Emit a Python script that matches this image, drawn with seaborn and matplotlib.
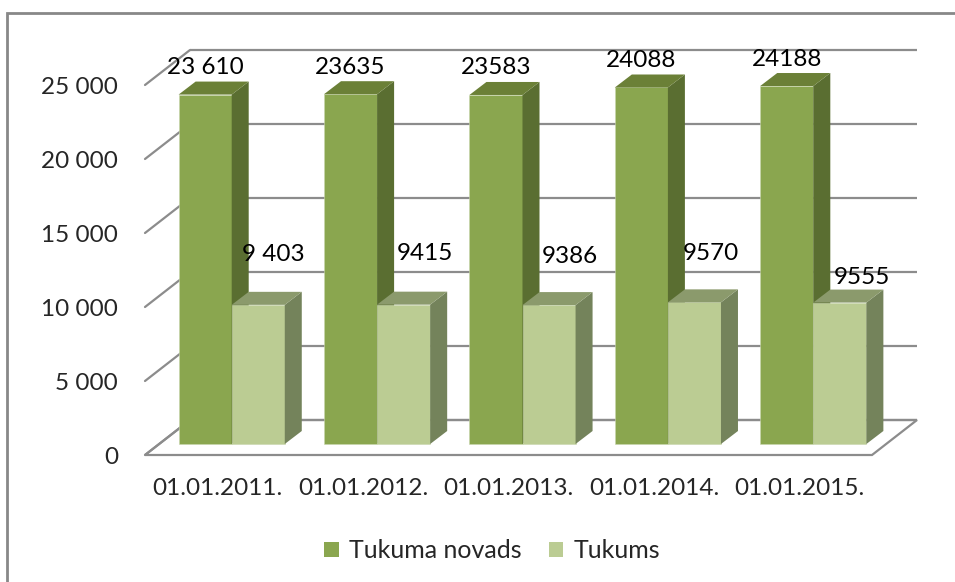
import matplotlib
matplotlib.use("Agg")
import matplotlib.pyplot as plt
from matplotlib.patches import Polygon, Rectangle, Patch
import seaborn as sns
import pandas as pd

# ---- data ----
dates = ["01.01.2011.", "01.01.2012.", "01.01.2013.", "01.01.2014.", "01.01.2015."]
series_names = ["Tukuma novads", "Tukums"]
tukuma_novads = [23610, 23635, 23583, 24088, 24188]
tukums = [9403, 9415, 9386, 9570, 9555]
novads_labels = ["23 610", "23635", "23583", "24088", "24188"]
tukums_labels = ["9 403", "9415", "9386", "9570", "9555"]
y_ticks = [0, 5000, 10000, 15000, 20000, 25000]

# ---- style ----
FONT = "Lato"
FS = 17.5
front_cols = {"Tukuma novads": "#8AA64F", "Tukums": "#BBCC93"}
side_cols = {"Tukuma novads": "#5A6E31", "Tukums": "#74835B"}
top_cols = {"Tukuma novads": "#6B8037", "Tukums": "#8B9A6C"}
GRID = "#8C8C8C"

sns.set_theme(style="white")
plt.rcParams["font.family"] = [FONT, "DejaVu Sans"]

W, H = 955, 582
fig = plt.figure(figsize=(W / 100, H / 100), dpi=100)
# front plane: x px 145..872, y=0 at px 455, y=25000 at px 85
ax = fig.add_axes([145 / W, (H - 455) / H, 727 / W, 370 / H])

df = pd.DataFrame({
    "date": dates * 2,
    "series": [series_names[0]] * len(dates) + [series_names[1]] * len(dates),
    "value": tukuma_novads + tukums,
})
sns.barplot(data=df, x="date", y="value", hue="series", order=dates,
            hue_order=series_names, palette=front_cols, width=0.73,
            saturation=1, legend=False, ax=ax, zorder=5, linewidth=0)

ax.set_xlim(-0.5, 4.5)
ax.set_ylim(0, 25000)

px_x = 727 / 5.0          # px per category
px_y = 370 / 25000.0      # px per value unit
# depth geometry (pixels -> data units)
DX, DY = 45 / px_x, 35 / px_y            # whole floor depth
OX, OY = 14 / px_x, 11 / px_y            # bar front offset
BX, BY = 17 / px_x, 13 / px_y            # bar depth

# floor
floor = Polygon([(-0.5, 0), (4.5, 0), (4.5 + DX, DY), (-0.5 + DX, DY)],
                closed=True, facecolor="white", edgecolor=GRID, lw=1.6,
                zorder=1, clip_on=False)
# back wall gridlines and left diagonals
for t in y_ticks:
    ax.plot([-0.5 + DX, 4.5 + DX], [t + DY, t + DY], color=GRID, lw=1.6,
            zorder=2, clip_on=False, solid_capstyle="butt")
    ax.plot([-0.5, -0.5 + DX], [t, t + DY], color=GRID, lw=1.6,
            zorder=2, clip_on=False)

bars = [p for p in ax.patches if isinstance(p, Rectangle) and p.get_width() > 0]
bars.sort(key=lambda p: p.get_x())
ax.add_patch(floor)

dark, light = [], []
z = 5
for p in bars:
    x0, w, h = p.get_x(), p.get_width(), p.get_height()
    cx = x0 + w / 2
    ser = series_names[0] if cx < round(cx) else series_names[1]
    (dark if ser == series_names[0] else light).append(p)
    nx, ny = x0 + OX, OY
    p.set_x(nx)
    p.set_y(ny)
    p.set_clip_on(False)
    p.set_zorder(z)
    p.set_edgecolor("#C9D6AE")
    p.set_linewidth(0.4)
    side = Polygon([(nx + w, ny), (nx + w + BX, ny + BY), (nx + w + BX, ny + h + BY), (nx + w, ny + h)],
                   closed=True, facecolor=side_cols[ser], edgecolor="none", zorder=z, clip_on=False)
    top = Polygon([(nx, ny + h), (nx + BX, ny + h + BY), (nx + w + BX, ny + h + BY), (nx + w, ny + h)],
                  closed=True, facecolor=top_cols[ser], edgecolor="none", zorder=z, clip_on=False)
    ax.add_patch(side)
    ax.add_patch(top)
    z += 1

# data labels
light_offsets = [(15, 50), (21, 51), (21, 49), (16, 49), (22, 25)]
for p, lab in zip(dark, novads_labels):
    ax.annotate(lab, (p.get_x() + p.get_width() / 2, p.get_y() + p.get_height()),
                xytext=(0, 27 * 0.72), textcoords="offset points", ha="center", va="center",
                fontsize=FS, color="black", zorder=50, annotation_clip=False)
for p, lab, (dx, dy) in zip(light, tukums_labels, light_offsets):
    ax.annotate(lab, (p.get_x() + p.get_width() / 2, p.get_y() + p.get_height()),
                xytext=(dx * 0.72, dy * 0.72), textcoords="offset points", ha="center", va="center",
                fontsize=FS, color="black", zorder=50, annotation_clip=False)

# axes ticks
ax.set_yticks(y_ticks)
ax.set_yticklabels([f"{t:,}".replace(",", " ") for t in y_ticks], fontsize=FS)
ax.set_xticks(range(len(dates)))
ax.set_xticklabels(dates, fontsize=FS)
ax.tick_params(axis="y", length=0, pad=27 * 0.72)
ax.tick_params(axis="x", length=0, pad=23 * 0.72)
ax.set_xlabel("")
ax.set_ylabel("")
for s in ax.spines.values():
    s.set_visible(False)
ax.patch.set_alpha(0)

# legend
handles = [Patch(facecolor=front_cols[s], edgecolor="none", label=s) for s in series_names]
fig.legend(handles=handles, loc="center", bbox_to_anchor=(492 / W, 1 - 551 / H), ncol=2,
           frameon=False, fontsize=18, handlelength=0.58, handleheight=0.58,
           handletextpad=0.4, columnspacing=1.1)

# outer frame (cropped on right/bottom)
fig.patches.append(Rectangle((7 / W, -0.1), 1.2, (H - 13) / H + 0.1, transform=fig.transFigure,
                             facecolor="none", edgecolor="#888888", lw=2.0, zorder=0))

fig.savefig("out.png", dpi=100)
